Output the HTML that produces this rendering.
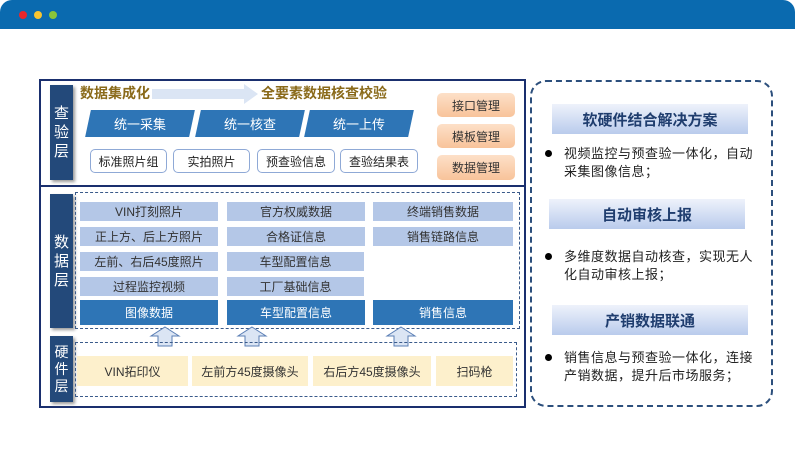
<!DOCTYPE html>
<html><head><meta charset="utf-8"><style>
*{margin:0;padding:0;box-sizing:border-box}
body{width:795px;height:463px;background:#fff;position:relative;overflow:hidden;font-family:"Liberation Sans","Noto Sans CJK SC",sans-serif}
.a{position:absolute}
.c{display:flex;align-items:center;justify-content:center;text-align:center}
.lbl{background:#23497a;color:#fff;font-size:15px;line-height:19px;box-shadow:2px 2px 3px #999}
.pg{background:#2e75b6;color:#fff;font-size:13px;transform:skewX(-12deg)}
.pg span{transform:skewX(12deg)}
.wb{border:1.5px solid #8fa9d6;border-radius:5px;font-size:12px;color:#222;background:#fff}
.ob{background:linear-gradient(#fde0c8,#f8c39a);border-radius:5px;font-size:12px;color:#333}
.lb{background:#b4c7e7;font-size:12px;color:#333}
.db{background:#2e75b6;color:#fff;font-size:12px}
.yb{background:#fdf0cc;font-size:12px;color:#333}
.hd{background:linear-gradient(#eef2fb,#b9cbec);font-size:15px;color:#1f3d6e;font-weight:bold}
.bt{font-size:13px;color:#222;line-height:18px;left:564px;width:192px;letter-spacing:0.5px}
.dot{position:absolute;left:-19px;top:5px;width:7px;height:7px;border-radius:50%;background:#000}
</style></head><body>
<div class="a" style="left:0;top:0;width:795px;height:29px;background:#0a6aaf;border-radius:12px 12px 0 0"></div>
<div class="a" style="left:19px;top:11px;width:8px;height:8px;border-radius:50%;background:#e9262b"></div>
<div class="a" style="left:34px;top:11px;width:8px;height:8px;border-radius:50%;background:#f7c531"></div>
<div class="a" style="left:49px;top:11px;width:8px;height:8px;border-radius:50%;background:#8ac53a"></div>

<div class="a" style="left:39px;top:79px;width:487px;height:329px;border:2px solid #1a2f6e"></div>
<div class="a" style="left:39px;top:185px;width:487px;height:2px;background:#1a2f6e"></div>

<div class="a c lbl" style="left:50px;top:85px;width:23px;height:95px">查<br>验<br>层</div>
<div class="a" style="left:80px;top:83px;font-size:14px;font-weight:bold;color:#8a6a1a">数据集成化</div>
<svg class="a" style="left:152px;top:84px" width="108" height="20"><polygon points="0,5 92,5 92,0 106,10 92,20 92,15 0,15" fill="#dbe5f4"/></svg>
<div class="a" style="left:261px;top:83px;font-size:14px;font-weight:bold;color:#8a6a1a">全要素数据核查校验</div>
<div class="a c pg" style="left:88px;top:110px;width:104px;height:27px"><span>统一采集</span></div>
<div class="a c pg" style="left:198px;top:110px;width:104px;height:27px"><span>统一核查</span></div>
<div class="a c pg" style="left:307px;top:110px;width:104px;height:27px"><span>统一上传</span></div>
<div class="a c wb" style="left:90px;top:149px;width:77px;height:24px">标准照片组</div>
<div class="a c wb" style="left:173px;top:149px;width:77px;height:24px">实拍照片</div>
<div class="a c wb" style="left:257px;top:149px;width:78px;height:24px">预查验信息</div>
<div class="a c wb" style="left:340px;top:149px;width:78px;height:24px">查验结果表</div>
<div class="a c ob" style="left:437px;top:93px;width:78px;height:24px">接口管理</div>
<div class="a c ob" style="left:437px;top:124px;width:78px;height:24px">模板管理</div>
<div class="a c ob" style="left:437px;top:155px;width:78px;height:25px">数据管理</div>

<div class="a c lbl" style="left:50px;top:194px;width:23px;height:134px">数<br>据<br>层</div>
<div class="a" style="left:75px;top:192px;width:445px;height:137px;border:1.5px dashed #3a5a8a"></div>
<div class="a c lb" style="left:80px;top:202px;width:138px;height:19px">VIN打刻照片</div>
<div class="a c lb" style="left:80px;top:227px;width:138px;height:19px">正上方、后上方照片</div>
<div class="a c lb" style="left:80px;top:252px;width:138px;height:19px">左前、右后45度照片</div>
<div class="a c lb" style="left:80px;top:277px;width:138px;height:19px">过程监控视频</div>
<div class="a c db" style="left:80px;top:300px;width:138px;height:25px">图像数据</div>
<div class="a c lb" style="left:227px;top:202px;width:138px;height:19px">官方权威数据</div>
<div class="a c lb" style="left:227px;top:227px;width:138px;height:19px">合格证信息</div>
<div class="a c lb" style="left:227px;top:252px;width:137px;height:19px">车型配置信息</div>
<div class="a c lb" style="left:227px;top:277px;width:137px;height:19px">工厂基础信息</div>
<div class="a c db" style="left:227px;top:300px;width:138px;height:25px">车型配置信息</div>
<div class="a c lb" style="left:373px;top:202px;width:140px;height:19px">终端销售数据</div>
<div class="a c lb" style="left:373px;top:227px;width:140px;height:19px">销售链路信息</div>
<div class="a c db" style="left:373px;top:300px;width:140px;height:25px">销售信息</div>

<svg class="a" style="left:0;top:0" width="795" height="463">
<g fill="#dbe5f4" stroke="#5b7fb5" stroke-width="1">
<polygon points="165,327 179,336 172,336 172,346 158,346 158,336 151,336"/>
<polygon points="252,327 266,336 259,336 259,346 245,346 245,336 238,336"/>
<polygon points="401,327 415,336 408,336 408,346 394,346 394,336 387,336"/>
</g></svg>

<div class="a c lbl" style="left:50px;top:336px;width:23px;height:66px;font-size:14px;line-height:17px">硬<br>件<br>层</div>
<div class="a" style="left:75px;top:342px;width:442px;height:55px;border:1.5px dashed #3a5a8a"></div>
<div class="a c yb" style="left:77px;top:356px;width:111px;height:30px">VIN拓印仪</div>
<div class="a c yb" style="left:192px;top:356px;width:116px;height:30px">左前方45度摄像头</div>
<div class="a c yb" style="left:313px;top:356px;width:118px;height:30px">右后方45度摄像头</div>
<div class="a c yb" style="left:436px;top:356px;width:77px;height:30px">扫码枪</div>

<div class="a" style="left:530px;top:80px;width:243px;height:327px;border:2px dashed #2c4f7c;border-radius:16px"></div>
<div class="a c hd" style="left:552px;top:104px;width:196px;height:30px">软硬件结合解决方案</div>
<div class="a bt" style="top:145px"><i class="dot"></i>视频监控与预查验一体化，自动采集图像信息；</div>
<div class="a c hd" style="left:549px;top:199px;width:196px;height:30px">自动审核上报</div>
<div class="a bt" style="top:248px"><i class="dot"></i>多维度数据自动核查，实现无人化自动审核上报；</div>
<div class="a c hd" style="left:552px;top:305px;width:196px;height:30px">产销数据联通</div>
<div class="a bt" style="top:349px"><i class="dot"></i>销售信息与预查验一体化，连接产销数据，提升后市场服务；</div>
</body></html>
